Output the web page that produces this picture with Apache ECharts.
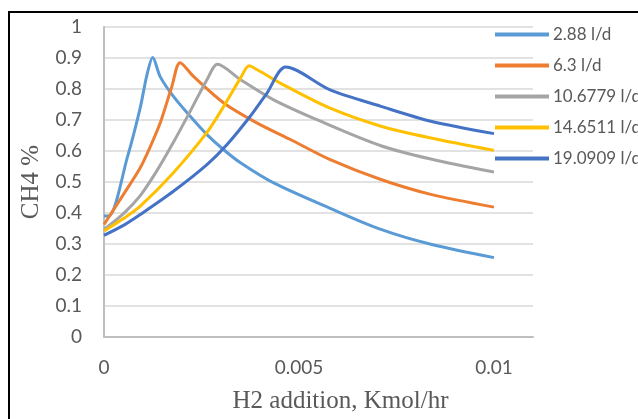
<!DOCTYPE html>
<html>
<head>
<meta charset="utf-8">
<script src="https://cdn.jsdelivr.net/npm/echarts@6/dist/echarts.min.js"></script>
<style>
    html, body { margin: 0; padding: 0; background: #fff; }
    #chart { width: 638px; height: 419px; }
</style>
</head>
<body>
<div id="chart"></div>
<script>
// series names (flow rates)
var names = ['2.88 l/d', '6.3 l/d', '10.6779 l/d', '14.6511 l/d', '19.0909 l/d'];
var colors = ['#5B9BD5', '#ED7D31', '#A5A5A5', '#FFC000', '#4472C4'];

// H2 addition (Kmol/hr) and CH4 fraction
var x1 = [0, 0.00012, 0.0006, 0.00093, 0.0011, 0.00125, 0.00144, 0.00178, 0.00221, 0.00264, 0.00307, 0.0035, 0.00435, 0.0058, 0.0071, 0.00838, 0.01];
var y1 = [0.39, 0.39, 0.58, 0.74, 0.845, 0.902, 0.84, 0.776, 0.712, 0.653, 0.604, 0.562, 0.497, 0.415, 0.347, 0.299, 0.256];

var x2 = [0, 0.0005, 0.00093, 0.00118, 0.00144, 0.00174, 0.00195, 0.0023, 0.00307, 0.00393, 0.00478, 0.0058, 0.0071, 0.00838, 0.01];
var y2 = [0.363, 0.46, 0.546, 0.612, 0.69, 0.808, 0.885, 0.84, 0.755, 0.69, 0.637, 0.572, 0.508, 0.46, 0.419];

var x3 = [0, 0.0005, 0.00093, 0.00135, 0.00178, 0.00221, 0.00264, 0.00291, 0.0035, 0.00435, 0.00555, 0.0071, 0.00838, 0.01];
var y3 = [0.347, 0.398, 0.456, 0.535, 0.628, 0.728, 0.83, 0.88, 0.83, 0.765, 0.696, 0.617, 0.574, 0.532];

var x4 = [0, 0.0005, 0.00093, 0.00178, 0.00264, 0.00307, 0.0035, 0.00372, 0.00393, 0.00452, 0.0058, 0.0071, 0.00838, 0.01];
var y4 = [0.342, 0.382, 0.422, 0.53, 0.66, 0.744, 0.835, 0.875, 0.862, 0.819, 0.738, 0.68, 0.642, 0.602];

var x5 = [0, 0.0005, 0.00093, 0.00178, 0.00264, 0.00315, 0.00375, 0.00418, 0.00466, 0.0058, 0.0071, 0.00838, 0.01];
var y5 = [0.328, 0.36, 0.395, 0.47, 0.556, 0.62, 0.712, 0.787, 0.871, 0.797, 0.744, 0.696, 0.656];

var xs = [x1, x2, x3, x4, x5];
var ys = [y1, y2, y3, y4, y5];

var chart = echarts.init(document.getElementById('chart'));

var series = [];
for (var i = 0; i < names.length; i++) {
    var pts = xs[i].map(function (v, j) { return [v, ys[i][j]]; });
    series.push({
        name: names[i],
        type: 'line',
        data: pts,
        smooth: 0.3,
        showSymbol: false,
        lineStyle: { color: colors[i], width: 3 },
        itemStyle: { color: colors[i] }
    });
}

var labelStyle = { fontFamily: 'Lato', fontSize: 19, color: '#595959' };

var option = {
    animation: false,
    grid: { left: 104, right: 105, top: 27, bottom: 81 },
    legend: {
        orient: 'vertical',
        left: 495,
        top: 26,
        padding: 0,
        icon: 'rect',
        itemWidth: 54,
        itemHeight: 4,
        itemGap: 14,
        textStyle: { fontFamily: 'Lato', fontSize: 17, color: '#595959', padding: [0, 0, 0, -1] },
        data: names
    },
    xAxis: {
        type: 'value',
        min: 0,
        max: 0.011,
        interval: 0.005,
        name: 'H2 addition, Kmol/hr',
        nameLocation: 'middle',
        nameGap: 52,
        nameTextStyle: { fontFamily: 'Liberation Serif', fontSize: 25, color: '#595959', padding: [0, 0, 0, 44] },
        axisLine: { lineStyle: { color: '#BFBFBF', width: 2 } },
        axisTick: { show: false },
        splitLine: { show: false },
        axisLabel: Object.assign({ margin: 21, showMaxLabel: false }, labelStyle)
    },
    yAxis: {
        type: 'value',
        min: 0,
        max: 1,
        interval: 0.1,
        name: 'CH4 %',
        nameLocation: 'middle',
        nameGap: 60,
        nameTextStyle: { fontFamily: 'Liberation Serif', fontSize: 25, color: '#595959' },
        axisLine: { show: true, lineStyle: { color: '#BFBFBF', width: 2 } },
        axisTick: { show: false },
        splitLine: { lineStyle: { color: '#D9D9D9', width: 1.5 } },
        axisLabel: Object.assign({ margin: 22 }, labelStyle)
    },
    graphic: [{
        type: 'rect',
        shape: { x: 9, y: 12, width: 700, height: 500 },
        style: { fill: 'none', stroke: '#000', lineWidth: 2 },
        silent: true
    }],
    series: series
};
chart.setOption(option);
</script>
</body>
</html>
